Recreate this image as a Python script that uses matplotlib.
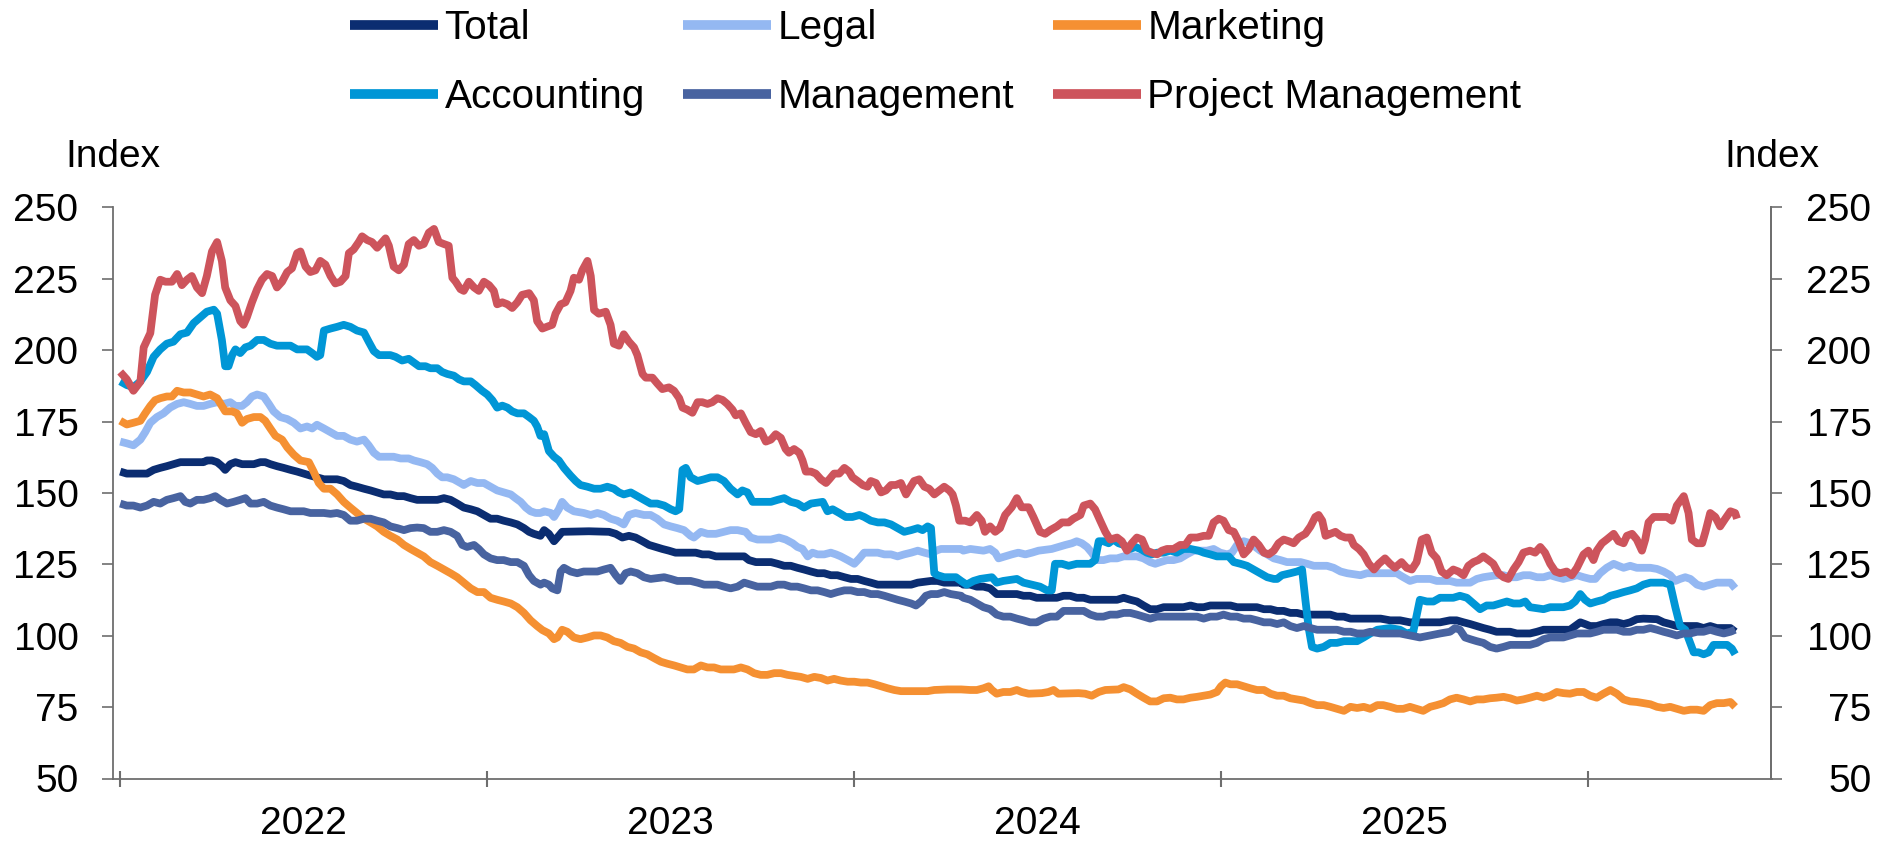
import matplotlib
matplotlib.use("Agg")
import matplotlib.pyplot as plt

plt.rcParams['font.family'] = ['Liberation Sans', 'DejaVu Sans']

# ---------------- data (decimal year, index value) ----------------
series_names = ["Total", "Legal", "Marketing", "Accounting", "Management", "Project Management"]
series_colors = ["#0B2D71", "#94B8F2", "#F59032", "#0096D6", "#4863A0", "#CD545C"]
year_ticks = [2022, 2023, 2024, 2025, 2026]
year_labels = ["2022", "2023", "2024", "2025"]
y_ticks = [50, 75, 100, 125, 150, 175, 200, 225, 250]

total_pts = [
    (2022.000,157.5),(2022.018,156.8),(2022.073,156.8),(2022.091,158.1),(2022.109,158.8),(2022.127,159.4),
    (2022.145,160.1),(2022.164,160.8),(2022.227,160.8),(2022.236,161.4),(2022.250,161.4),(2022.264,160.8),
    (2022.277,159.4),(2022.286,158.1),(2022.300,160.1),(2022.314,160.8),(2022.332,160.1),(2022.364,160.1),
    (2022.382,160.8),(2022.395,160.8),(2022.409,160.1),(2022.427,159.4),(2022.445,158.8),(2022.464,158.1),
    (2022.482,157.5),(2022.500,156.8),(2022.518,156.1),(2022.536,155.5),(2022.555,154.8),(2022.591,154.8),
    (2022.609,154.2),(2022.627,152.8),(2022.645,152.2),(2022.664,151.5),(2022.682,150.9),(2022.700,150.2),
    (2022.718,149.5),(2022.736,149.5),(2022.755,148.9),(2022.773,148.9),(2022.791,148.2),(2022.809,147.6),
    (2022.864,147.6),(2022.882,148.2),(2022.900,147.6),(2022.918,146.3),(2022.936,144.9),(2022.955,144.3),
    (2022.973,143.6),(2022.991,142.3),(2023.009,141.0),(2023.027,141.0),(2023.045,140.3),(2023.064,139.7),
    (2023.082,139.0),(2023.100,137.7),(2023.114,136.4),(2023.127,135.7),(2023.145,135.0),
    (2023.155,137.0),(2023.168,135.7),(2023.182,133.1),(2023.195,135.0),(2023.204,136.4),(2023.277,136.6),
    (2023.332,136.4),(2023.350,135.7),(2023.368,134.4),(2023.386,135.0),(2023.404,134.4),(2023.423,133.1),
    (2023.441,131.8),(2023.459,131.1),(2023.477,130.4),(2023.495,129.8),(2023.513,129.1),(2023.568,129.1),
    (2023.586,128.5),(2023.604,128.5),(2023.623,127.8),(2023.700,127.8),(2023.713,126.5),(2023.732,125.8),
    (2023.773,125.8),(2023.791,125.2),(2023.809,124.5),(2023.827,124.5),(2023.845,123.8),(2023.863,123.2),
    (2023.882,122.5),(2023.900,121.9),(2023.918,121.9),(2023.936,121.2),(2023.954,121.2),(2023.973,120.5),
    (2023.991,119.9),(2024.009,119.9),(2024.027,119.2),(2024.045,118.6),(2024.064,117.9),(2024.155,117.9),
    (2024.173,118.6),(2024.209,119.2),(2024.227,119.2),(2024.245,118.6),(2024.291,118.6),
    (2024.297,117.9),(2024.316,117.9),(2024.334,117.2),(2024.352,117.2),(2024.370,116.6),(2024.388,114.6),
    (2024.443,114.6),(2024.461,114.0),(2024.479,114.0),(2024.497,113.3),(2024.552,113.3),(2024.570,114.0),
    (2024.588,114.0),(2024.606,113.3),(2024.625,113.3),(2024.643,112.6),(2024.716,112.6),(2024.734,113.3),
    (2024.752,112.6),(2024.770,112.0),(2024.788,110.6),(2024.806,109.3),(2024.825,109.3),(2024.843,110.0),
    (2024.897,110.0),(2024.916,110.6),(2024.934,110.0),(2024.952,110.0),(2024.970,110.6),(2025.025,110.6),
    (2025.043,110.0),(2025.097,110.0),(2025.116,109.3),(2025.134,109.3),(2025.152,108.7),(2025.170,108.7),
    (2025.188,108.0),(2025.206,108.0),(2025.225,107.4),(2025.297,107.4),(2025.315,106.7),(2025.334,106.7),
    (2025.352,106.0),(2025.434,106.0),
    (2025.460,105.4),(2025.487,105.4),(2025.514,104.7),(2025.596,104.7),(2025.623,105.4),(2025.641,105.4),
    (2025.660,104.7),(2025.678,104.1),(2025.696,103.4),(2025.714,102.7),(2025.732,102.1),(2025.750,101.4),
    (2025.787,101.4),(2025.805,100.8),(2025.841,100.8),(2025.860,101.4),(2025.878,102.1),(2025.950,102.1),
    (2025.964,103.4),(2025.978,104.7),(2025.991,104.1),(2026.005,103.4),(2026.023,103.4),(2026.041,104.1),
    (2026.060,104.7),(2026.078,104.7),(2026.096,104.1),(2026.114,104.7),(2026.132,105.8),(2026.150,106.0),
    (2026.187,105.8),(2026.205,104.7),(2026.223,104.1),(2026.241,103.4),(2026.296,103.4),(2026.314,102.7),
    (2026.332,103.4),(2026.350,102.7),(2026.387,102.7),(2026.400,101.4),
]

legal_pts = [
    (2022.000,168.0),(2022.018,167.4),(2022.036,166.7),(2022.055,168.7),(2022.068,171.3),(2022.082,174.6),
    (2022.100,176.6),(2022.118,177.9),(2022.136,179.9),(2022.155,181.2),(2022.173,181.8),(2022.191,181.2),
    (2022.209,180.5),(2022.227,180.5),(2022.245,181.2),(2022.264,181.8),(2022.282,181.2),(2022.300,181.8),
    (2022.314,180.5),(2022.332,180.5),(2022.345,181.8),(2022.359,183.8),(2022.373,184.5),(2022.391,183.8),
    (2022.405,181.2),(2022.418,178.6),(2022.436,176.6),(2022.455,175.9),(2022.473,174.6),(2022.491,172.6),
    (2022.509,173.3),(2022.523,172.6),(2022.536,173.9),(2022.555,172.6),(2022.573,171.3),(2022.591,170.0),
    (2022.609,170.0),(2022.627,168.7),(2022.645,168.0),(2022.664,168.7),(2022.677,166.7),(2022.691,164.1),
    (2022.705,162.7),(2022.745,162.7),(2022.764,162.1),(2022.786,162.1),(2022.800,161.4),(2022.818,160.8),
    (2022.836,160.1),(2022.850,158.8),(2022.864,156.8),(2022.877,155.5),(2022.891,155.5),(2022.909,154.8),
    (2022.927,153.5),(2022.936,152.8),(2022.955,154.2),(2022.973,153.5),(2022.991,153.5),(2023.009,152.2),
    (2023.027,150.9),(2023.045,150.2),(2023.064,149.5),(2023.077,148.2),(2023.091,146.9),(2023.105,144.9),
    (2023.118,143.6),(2023.132,143.0),(2023.145,143.0),
    (2023.155,143.6),(2023.173,143.0),(2023.182,141.6),(2023.195,144.3),(2023.204,146.9),(2023.218,144.9),
    (2023.236,143.6),(2023.263,143.0),(2023.282,142.3),(2023.300,143.0),(2023.318,142.3),(2023.336,141.0),
    (2023.354,140.3),(2023.372,139.0),(2023.386,142.3),(2023.404,143.0),(2023.427,142.3),(2023.445,142.3),
    (2023.463,141.0),(2023.482,139.0),(2023.500,138.3),(2023.518,137.7),(2023.536,137.0),(2023.554,135.0),
    (2023.563,134.4),(2023.582,136.4),(2023.600,135.7),(2023.623,135.7),(2023.645,136.4),(2023.663,137.0),
    (2023.682,137.0),(2023.704,136.4),(2023.718,134.4),(2023.736,133.7),(2023.773,133.7),(2023.795,134.4),
    (2023.813,133.7),(2023.832,132.4),(2023.845,131.1),(2023.859,130.4),(2023.873,127.8),(2023.886,129.1),
    (2023.900,128.5),(2023.918,128.5),(2023.936,129.1),(2023.950,128.5),(2023.963,127.8),(2023.982,126.5),
    (2024.000,125.2),(2024.014,127.1),(2024.027,129.1),(2024.064,129.1),(2024.082,128.5),(2024.100,128.5),
    (2024.118,127.8),(2024.136,128.5),(2024.155,129.1),(2024.173,129.8),(2024.191,129.1),(2024.209,128.5),
    (2024.223,129.8),(2024.236,130.4),(2024.291,130.4),
    (2024.297,129.8),(2024.316,130.4),(2024.352,129.8),(2024.370,130.4),(2024.384,129.1),(2024.393,127.1),
    (2024.411,127.8),(2024.429,128.5),(2024.447,129.1),(2024.466,128.5),(2024.484,129.1),(2024.502,129.8),
    (2024.538,130.4),(2024.556,131.1),(2024.575,131.8),(2024.593,132.4),(2024.606,133.1),(2024.620,132.4),
    (2024.634,131.1),(2024.647,129.1),(2024.661,126.5),(2024.679,126.5),(2024.697,127.1),(2024.716,127.1),
    (2024.734,127.8),(2024.770,127.8),(2024.788,127.1),(2024.806,125.8),(2024.820,125.2),(2024.834,125.8),
    (2024.852,126.5),(2024.870,126.5),(2024.888,127.1),(2024.906,128.5),(2024.925,129.8),(2024.961,129.8),
    (2024.979,130.4),(2024.997,129.1),(2025.016,128.5),(2025.029,129.1),(2025.043,131.8),(2025.061,133.1),
    (2025.079,132.4),(2025.093,131.1),(2025.106,129.8),(2025.125,128.5),(2025.143,127.1),(2025.161,126.5),
    (2025.179,125.8),(2025.216,125.8),(2025.234,125.2),(2025.252,124.5),(2025.288,124.5),(2025.306,123.8),
    (2025.325,122.5),(2025.343,121.9),(2025.379,121.2),(2025.397,121.9),(2025.434,121.9),
    (2025.460,121.9),(2025.478,121.9),(2025.496,120.5),(2025.514,119.2),(2025.532,119.9),(2025.569,119.9),
    (2025.587,119.2),(2025.623,119.2),(2025.641,118.6),(2025.678,118.6),(2025.696,119.9),(2025.714,120.5),
    (2025.750,121.2),(2025.769,121.2),(2025.787,120.5),(2025.805,120.5),(2025.823,121.2),(2025.841,121.2),
    (2025.860,120.5),(2025.878,120.5),(2025.896,121.2),(2025.914,120.5),(2025.932,119.9),(2025.950,120.5),
    (2025.969,121.2),(2025.987,120.5),(2026.005,119.9),(2026.019,119.9),(2026.032,121.9),(2026.050,123.8),
    (2026.069,125.2),(2026.082,124.5),(2026.096,123.8),(2026.114,124.5),(2026.132,123.8),(2026.169,123.8),
    (2026.187,123.4),(2026.205,122.5),(2026.223,121.2),(2026.237,119.2),(2026.250,119.9),(2026.264,120.5),
    (2026.278,119.9),(2026.296,117.9),(2026.314,117.2),(2026.332,117.9),(2026.350,118.6),(2026.387,118.6),
    (2026.400,116.6),
]

marketing_pts = [
    (2022.000,175.3),(2022.018,174.0),(2022.036,174.6),(2022.055,175.3),(2022.068,177.9),(2022.082,180.5),
    (2022.095,182.5),(2022.109,183.2),(2022.127,183.8),(2022.141,183.8),(2022.155,185.8),(2022.173,185.2),
    (2022.191,185.2),(2022.209,184.5),(2022.227,183.8),(2022.245,184.5),(2022.264,183.2),(2022.277,180.5),
    (2022.286,178.6),(2022.305,178.6),(2022.318,177.9),(2022.332,174.6),(2022.345,175.9),(2022.364,176.6),
    (2022.382,176.6),(2022.395,175.3),(2022.409,172.6),(2022.423,170.0),(2022.441,168.7),(2022.455,166.0),
    (2022.473,163.4),(2022.491,161.4),(2022.514,160.8),(2022.527,157.5),(2022.541,153.5),(2022.555,151.5),
    (2022.573,151.5),(2022.591,149.5),(2022.609,146.9),(2022.627,144.9),(2022.645,143.0),(2022.664,141.0),
    (2022.682,139.7),(2022.700,138.3),(2022.718,136.4),(2022.736,135.0),(2022.755,133.7),(2022.773,131.8),
    (2022.791,130.4),(2022.809,129.1),(2022.827,127.8),(2022.845,125.8),(2022.864,124.5),(2022.882,123.2),
    (2022.900,121.9),(2022.918,120.5),(2022.936,118.6),(2022.955,116.6),(2022.973,115.3),(2022.991,115.3),
    (2023.009,113.3),(2023.027,112.6),(2023.045,112.0),(2023.064,111.3),(2023.082,110.0),(2023.100,108.0),
    (2023.118,105.4),(2023.136,103.4),(2023.150,102.0),
    (2023.168,100.8),(2023.182,98.8),(2023.191,99.4),(2023.204,102.1),(2023.218,101.4),(2023.236,99.4),
    (2023.254,98.8),(2023.273,99.4),(2023.291,100.1),(2023.309,100.1),(2023.327,99.4),(2023.345,98.1),
    (2023.363,97.5),(2023.382,96.1),(2023.400,95.5),(2023.418,94.2),(2023.436,93.5),(2023.454,92.2),
    (2023.473,90.9),(2023.491,90.2),(2023.509,89.6),(2023.527,88.9),(2023.545,88.2),(2023.563,88.2),
    (2023.582,89.6),(2023.600,88.9),(2023.618,88.9),(2023.636,88.2),(2023.672,88.2),(2023.691,88.9),
    (2023.709,88.2),(2023.727,86.9),(2023.745,86.3),(2023.763,86.3),(2023.782,86.9),(2023.800,86.9),
    (2023.818,86.3),(2023.854,85.6),(2023.873,84.9),(2023.891,85.6),(2023.909,85.2),(2023.927,84.3),
    (2023.945,84.9),(2023.963,84.3),(2023.982,83.9),(2024.000,83.9),(2024.018,83.6),(2024.036,83.6),
    (2024.055,83.0),(2024.073,82.3),(2024.091,81.6),(2024.109,81.0),(2024.127,80.6),(2024.200,80.6),
    (2024.218,81.0),(2024.254,81.2),(2024.291,81.2),
    (2024.316,81.0),(2024.334,81.0),(2024.352,81.6),(2024.366,82.3),(2024.375,81.0),(2024.388,79.7),
    (2024.406,80.3),(2024.425,80.3),(2024.443,81.0),(2024.456,80.3),(2024.475,79.7),(2024.511,79.9),
    (2024.529,80.3),(2024.543,81.0),(2024.556,79.7),(2024.611,79.9),(2024.629,79.7),(2024.647,79.0),
    (2024.666,80.3),(2024.684,81.0),(2024.720,81.2),(2024.734,82.0),(2024.752,81.2),(2024.770,79.7),
    (2024.788,78.3),(2024.806,77.0),(2024.825,77.0),(2024.843,78.1),(2024.861,78.3),(2024.879,77.7),
    (2024.897,77.7),(2024.916,78.3),(2024.934,78.6),(2024.952,79.0),(2024.970,79.4),(2024.988,80.3),
    (2024.999,82.3),(2025.011,83.6),(2025.025,83.0),(2025.043,83.0),(2025.061,82.3),(2025.079,81.6),
    (2025.097,81.0),(2025.116,81.0),(2025.134,79.7),(2025.152,79.0),(2025.170,79.0),(2025.188,78.1),
    (2025.206,77.7),(2025.225,77.3),(2025.243,76.4),(2025.261,75.7),(2025.279,75.7),(2025.297,75.1),
    (2025.315,74.4),(2025.334,73.7),(2025.352,75.1),(2025.370,74.7),(2025.388,75.1),(2025.406,74.4),
    (2025.425,75.7),
    (2025.441,75.7),(2025.460,75.1),(2025.478,74.4),(2025.496,74.4),(2025.514,75.1),(2025.532,74.4),
    (2025.550,73.7),(2025.569,75.1),(2025.587,75.7),(2025.605,76.4),(2025.623,77.7),(2025.641,78.3),
    (2025.660,77.7),(2025.678,77.0),(2025.696,77.7),(2025.714,77.7),(2025.732,78.1),(2025.750,78.3),
    (2025.769,78.6),(2025.787,78.1),(2025.805,77.3),(2025.823,77.7),(2025.841,78.3),(2025.860,79.0),
    (2025.878,78.3),(2025.896,79.0),(2025.914,80.3),(2025.932,79.9),(2025.950,79.7),(2025.969,80.3),
    (2025.987,80.3),(2026.005,79.0),(2026.023,78.3),(2026.041,79.7),(2026.060,81.0),(2026.078,79.7),
    (2026.096,77.7),(2026.114,77.0),(2026.132,76.8),(2026.150,76.4),(2026.169,76.0),(2026.187,75.1),
    (2026.205,74.7),(2026.223,75.1),(2026.241,74.4),(2026.260,73.7),(2026.278,74.1),(2026.296,74.1),
    (2026.314,73.7),(2026.332,75.7),(2026.350,76.4),(2026.369,76.4),(2026.387,76.8),(2026.400,75.1),
]

accounting_pts = [
    (2022.000,189.1),(2022.018,187.8),(2022.036,187.1),(2022.055,189.1),(2022.073,192.4),(2022.091,197.7),
    (2022.109,200.3),(2022.127,202.3),(2022.145,203.0),(2022.164,205.6),(2022.182,206.2),(2022.200,209.5),
    (2022.218,211.5),(2022.236,213.5),(2022.255,214.2),(2022.264,212.8),(2022.277,203.6),(2022.286,194.4),
    (2022.295,194.4),(2022.305,198.3),(2022.314,200.3),(2022.327,199.0),(2022.341,201.0),(2022.355,201.6),
    (2022.373,203.6),(2022.391,203.6),(2022.409,202.3),(2022.427,201.6),(2022.464,201.6),(2022.482,200.3),
    (2022.509,200.3),(2022.523,199.0),(2022.536,197.7),(2022.545,198.3),(2022.555,206.9),(2022.573,207.6),
    (2022.591,208.2),(2022.609,208.9),(2022.627,208.2),(2022.645,206.9),(2022.664,206.2),(2022.677,203.0),
    (2022.691,199.7),(2022.705,198.3),(2022.736,198.3),(2022.750,197.7),(2022.768,196.4),(2022.786,197.0),
    (2022.800,195.7),(2022.814,194.4),(2022.832,194.4),(2022.845,193.7),(2022.864,193.7),(2022.877,192.4),
    (2022.891,191.7),(2022.909,191.1),(2022.923,189.8),(2022.936,189.1),(2022.955,189.1),(2022.968,187.8),
    (2022.986,185.8),(2023.000,184.5),(2023.014,182.5),(2023.027,179.9),(2023.041,180.6),(2023.055,179.9),
    (2023.068,178.6),(2023.082,177.9),(2023.100,177.9),(2023.114,176.6),(2023.127,175.3),(2023.136,173.3),
    (2023.145,170.0),
    (2023.155,170.6),(2023.168,164.7),(2023.182,162.7),(2023.195,161.4),(2023.209,158.8),(2023.227,156.1),
    (2023.241,154.2),(2023.254,152.8),(2023.273,152.2),(2023.291,151.5),(2023.309,151.5),(2023.327,152.2),
    (2023.345,151.5),(2023.359,150.2),(2023.372,149.5),(2023.391,150.2),(2023.409,148.9),(2023.427,147.6),
    (2023.445,146.3),(2023.463,146.3),(2023.482,145.6),(2023.500,144.3),(2023.513,143.6),(2023.523,144.3),
    (2023.532,158.1),(2023.541,158.8),(2023.554,155.5),(2023.573,154.2),(2023.591,154.8),(2023.609,155.5),
    (2023.627,155.5),(2023.645,154.2),(2023.663,151.5),(2023.682,149.5),(2023.695,150.9),(2023.709,150.2),
    (2023.723,146.9),(2023.773,146.9),(2023.791,147.6),(2023.809,148.2),(2023.827,146.9),(2023.845,146.3),
    (2023.863,144.9),(2023.882,146.3),(2023.914,146.9),(2023.927,143.6),(2023.941,144.3),(2023.959,143.0),
    (2023.977,141.6),(2023.995,141.6),(2024.014,142.3),(2024.027,141.6),(2024.045,140.3),(2024.064,139.7),
    (2024.082,139.7),(2024.100,139.0),(2024.118,137.7),(2024.136,136.4),(2024.155,137.0),(2024.173,137.7),
    (2024.186,137.0),(2024.200,138.3),(2024.209,137.7),(2024.218,121.9),(2024.227,121.2),(2024.245,120.5),
    (2024.277,120.5),(2024.291,119.2),
    (2024.306,117.9),(2024.325,119.2),(2024.343,119.9),(2024.375,120.5),(2024.388,118.6),(2024.406,119.2),
    (2024.443,119.9),(2024.461,118.6),(2024.484,117.9),(2024.506,117.2),(2024.525,115.9),(2024.538,115.9),
    (2024.547,125.2),(2024.566,125.2),(2024.584,124.5),(2024.606,125.2),(2024.643,125.2),(2024.656,126.5),
    (2024.666,133.1),(2024.679,133.1),(2024.693,132.4),(2024.706,133.7),(2024.720,132.4),(2024.734,131.8),
    (2024.752,130.4),(2024.766,131.1),(2024.779,130.4),(2024.797,129.1),(2024.811,128.5),(2024.825,129.1),
    (2024.843,129.1),(2024.861,129.8),(2024.879,129.1),(2024.897,130.4),(2024.916,130.4),(2024.938,129.8),
    (2024.952,129.1),(2024.970,128.5),(2024.988,127.8),(2025.020,127.8),(2025.034,125.8),(2025.052,125.2),
    (2025.070,124.5),(2025.088,123.2),(2025.106,121.9),(2025.125,120.5),(2025.143,119.9),(2025.152,119.9),
    (2025.165,121.2),(2025.188,121.9),(2025.206,122.5),(2025.220,123.2),(2025.229,112.6),(2025.238,102.7),
    (2025.247,96.1),(2025.261,95.5),(2025.279,96.1),(2025.297,97.5),(2025.315,97.5),(2025.334,98.1),
    (2025.370,98.1),(2025.388,99.4),(2025.406,100.8),(2025.425,102.1),
    (2025.460,102.7),(2025.487,102.1),(2025.505,100.8),(2025.523,101.4),(2025.541,112.6),(2025.560,112.0),
    (2025.578,112.0),(2025.596,113.3),(2025.632,113.3),(2025.650,114.0),(2025.669,113.3),(2025.687,111.3),
    (2025.705,109.3),(2025.723,110.6),(2025.741,110.6),(2025.760,111.3),(2025.778,112.0),(2025.796,111.3),
    (2025.814,111.3),(2025.828,112.0),(2025.841,110.0),(2025.878,109.3),(2025.896,110.0),(2025.932,110.0),
    (2025.950,110.6),(2025.964,112.0),(2025.978,114.6),(2025.991,112.6),(2026.005,111.3),(2026.023,112.0),
    (2026.041,112.6),(2026.060,114.0),(2026.078,114.6),(2026.096,115.3),(2026.114,115.9),(2026.132,116.6),
    (2026.150,117.9),(2026.169,118.6),(2026.205,118.6),(2026.223,117.9),(2026.237,110.0),(2026.250,103.4),
    (2026.264,102.1),(2026.287,94.2),(2026.300,94.2),(2026.314,93.5),(2026.328,94.2),(2026.341,96.8),
    (2026.378,96.8),(2026.391,95.5),(2026.400,93.5),
]

management_pts = [
    (2022.000,146.3),(2022.018,145.6),(2022.036,145.6),(2022.055,144.9),(2022.073,145.6),(2022.091,146.9),
    (2022.109,146.3),(2022.127,147.6),(2022.145,148.2),(2022.164,148.9),(2022.177,146.9),(2022.191,146.3),
    (2022.209,147.6),(2022.227,147.6),(2022.245,148.2),(2022.259,148.9),(2022.273,147.6),(2022.291,146.3),
    (2022.309,146.9),(2022.327,147.6),(2022.341,148.2),(2022.355,146.3),(2022.373,146.3),(2022.391,146.9),
    (2022.409,145.6),(2022.427,144.9),(2022.445,144.3),(2022.464,143.6),(2022.500,143.6),(2022.518,143.0),
    (2022.555,143.0),(2022.573,142.7),(2022.591,143.0),(2022.609,142.3),(2022.627,140.3),(2022.645,140.3),
    (2022.664,141.0),(2022.682,141.0),(2022.700,140.3),(2022.718,139.7),(2022.736,138.3),(2022.755,137.7),
    (2022.773,137.0),(2022.791,137.7),(2022.809,137.9),(2022.827,137.7),(2022.845,136.4),(2022.864,136.4),
    (2022.882,137.0),(2022.900,136.4),(2022.918,135.0),(2022.932,131.8),(2022.945,131.1),(2022.964,131.8),
    (2022.977,130.4),(2022.991,128.5),(2023.009,127.1),(2023.027,126.5),(2023.045,126.5),(2023.064,125.8),
    (2023.082,125.8),(2023.100,124.5),(2023.114,121.2),(2023.127,119.2),(2023.145,117.9),
    (2023.155,118.6),(2023.168,117.9),(2023.177,116.6),(2023.191,115.9),(2023.200,122.5),(2023.209,123.8),
    (2023.227,122.5),(2023.245,121.9),(2023.263,122.5),(2023.300,122.5),(2023.318,123.2),(2023.336,123.8),
    (2023.350,121.2),(2023.363,119.2),(2023.377,121.9),(2023.391,122.5),(2023.409,121.9),(2023.427,120.5),
    (2023.445,119.9),(2023.482,120.5),(2023.500,119.9),(2023.518,119.2),(2023.554,119.2),(2023.573,118.6),
    (2023.591,117.9),(2023.627,117.9),(2023.645,117.2),(2023.663,116.6),(2023.682,117.2),(2023.700,118.6),
    (2023.718,117.9),(2023.736,117.2),(2023.773,117.2),(2023.791,117.9),(2023.809,117.9),(2023.827,117.2),
    (2023.845,117.2),(2023.863,116.6),(2023.882,115.9),(2023.900,115.9),(2023.918,115.3),(2023.936,114.6),
    (2023.954,115.3),(2023.973,115.9),(2023.991,115.9),(2024.009,115.3),(2024.027,115.3),(2024.045,114.6),
    (2024.064,114.6),(2024.082,114.0),(2024.100,113.3),(2024.118,112.6),(2024.136,112.0),(2024.155,111.3),
    (2024.168,110.6),(2024.182,112.0),(2024.195,114.0),(2024.209,114.6),(2024.227,114.6),(2024.245,115.3),
    (2024.263,114.6),(2024.291,114.0),
    (2024.297,113.3),(2024.316,112.6),(2024.334,111.3),(2024.352,110.0),(2024.370,109.3),(2024.388,107.4),
    (2024.406,106.7),(2024.425,106.7),(2024.443,106.0),(2024.461,105.4),(2024.479,104.7),(2024.497,104.7),
    (2024.516,106.0),(2024.534,106.7),(2024.552,106.7),(2024.570,108.7),(2024.625,108.7),(2024.643,107.4),
    (2024.661,106.7),(2024.679,106.7),(2024.697,107.4),(2024.716,107.4),(2024.734,108.0),(2024.752,108.0),
    (2024.770,107.4),(2024.788,106.7),(2024.806,106.0),(2024.825,106.7),(2024.934,106.7),(2024.952,106.0),
    (2024.970,106.7),(2024.988,106.7),(2025.006,107.4),(2025.025,106.7),(2025.043,106.7),(2025.061,106.0),
    (2025.079,106.0),(2025.097,105.4),(2025.116,104.7),(2025.134,104.7),(2025.152,104.1),(2025.170,104.7),
    (2025.188,103.4),(2025.206,102.7),(2025.225,103.4),(2025.243,102.7),(2025.261,102.1),(2025.315,102.1),
    (2025.334,101.4),(2025.352,101.4),(2025.370,100.8),(2025.388,100.8),(2025.406,101.4),(2025.434,100.8),
    (2025.460,100.8),(2025.487,100.8),(2025.514,100.1),(2025.541,99.4),(2025.569,100.1),(2025.596,100.8),
    (2025.623,101.4),(2025.637,102.7),(2025.650,102.1),(2025.664,99.4),(2025.678,98.8),(2025.696,98.1),
    (2025.714,97.5),(2025.732,96.1),(2025.750,95.5),(2025.769,96.1),(2025.787,96.8),(2025.841,96.8),
    (2025.860,97.5),(2025.878,98.8),(2025.896,99.4),(2025.932,99.4),(2025.950,100.1),(2025.969,100.8),
    (2026.005,100.8),(2026.023,101.4),(2026.041,102.1),(2026.078,102.1),(2026.096,101.4),(2026.114,101.4),
    (2026.132,102.1),(2026.150,102.1),(2026.169,102.7),(2026.187,102.1),(2026.205,101.4),(2026.223,100.8),
    (2026.241,100.1),(2026.260,100.8),(2026.278,100.8),(2026.296,101.4),(2026.314,101.4),(2026.332,102.1),
    (2026.350,101.4),(2026.369,100.8),(2026.387,101.4),(2026.400,102.1),
]

project_mgmt_pts = [
    (2022.000,192.4),(2022.018,189.8),(2022.036,185.8),(2022.055,189.0),(2022.064,201.0),(2022.082,206.0),
    (2022.095,219.4),(2022.109,224.7),(2022.123,224.0),(2022.141,224.0),(2022.155,226.7),(2022.168,222.8),
    (2022.182,224.7),(2022.195,226.0),(2022.209,222.0),(2022.223,220.0),(2022.236,226.0),(2022.250,234.6),
    (2022.264,237.9),(2022.277,231.3),(2022.286,222.0),(2022.300,217.5),(2022.314,215.5),(2022.327,210.2),
    (2022.336,208.9),(2022.345,211.5),(2022.359,216.8),(2022.373,221.4),(2022.386,224.7),(2022.400,226.7),
    (2022.414,226.0),(2022.427,222.0),(2022.441,224.0),(2022.455,227.4),(2022.468,228.7),(2022.482,234.0),
    (2022.491,234.6),(2022.505,229.3),(2022.518,227.4),(2022.532,228.0),(2022.545,231.3),(2022.559,230.0),
    (2022.573,226.0),(2022.586,223.4),(2022.600,224.0),(2022.614,226.0),(2022.623,234.0),(2022.636,235.3),
    (2022.650,237.9),(2022.659,239.9),(2022.673,238.6),(2022.686,237.9),(2022.700,235.9),(2022.714,237.9),
    (2022.723,239.2),(2022.732,236.6),(2022.745,229.3),(2022.759,228.0),(2022.773,230.0),(2022.786,237.2),
    (2022.800,238.6),(2022.814,236.6),(2022.827,237.2),(2022.841,241.2),(2022.855,242.5),(2022.868,237.9),
    (2022.882,237.2),(2022.895,236.6),(2022.905,225.4),(2022.914,224.0),(2022.927,221.4),(2022.936,220.8),
    (2022.950,224.0),(2022.964,222.0),(2022.977,220.8),(2022.991,224.0),(2023.005,222.8),(2023.018,220.8),
    (2023.027,216.1),(2023.041,216.8),(2023.055,216.1),(2023.068,214.8),(2023.082,216.8),(2023.095,219.4),
    (2023.114,220.0),(2023.127,217.5),(2023.136,210.2),(2023.150,207.6),
    (2023.164,208.3),(2023.177,208.9),(2023.186,212.8),(2023.200,216.1),(2023.213,216.8),(2023.227,220.8),
    (2023.236,225.4),(2023.250,224.7),(2023.259,228.0),(2023.273,231.3),(2023.282,226.0),(2023.291,214.1),
    (2023.304,212.8),(2023.323,213.5),(2023.336,208.9),(2023.345,202.3),(2023.359,201.6),(2023.372,205.6),
    (2023.386,203.0),(2023.400,201.0),(2023.409,198.3),(2023.423,191.7),(2023.432,190.4),(2023.450,190.4),
    (2023.463,188.4),(2023.477,186.4),(2023.495,187.0),(2023.509,185.8),(2023.523,183.2),(2023.532,179.9),
    (2023.545,179.2),(2023.559,178.1),(2023.573,181.8),(2023.586,181.8),(2023.600,181.2),(2023.613,181.8),
    (2023.627,183.2),(2023.641,182.6),(2023.654,181.2),(2023.668,179.2),(2023.677,177.2),(2023.691,177.9),
    (2023.704,174.6),(2023.718,171.3),(2023.732,170.6),(2023.745,171.7),(2023.759,168.0),(2023.773,168.7),
    (2023.786,170.6),(2023.800,169.3),(2023.813,165.4),(2023.822,164.1),(2023.836,165.4),(2023.850,164.1),
    (2023.859,161.4),(2023.868,157.5),(2023.882,157.5),(2023.895,156.8),(2023.909,154.8),(2023.923,153.5),
    (2023.932,154.8),(2023.945,156.8),(2023.959,156.8),(2023.973,158.8),(2023.986,157.5),(2023.995,155.5),
    (2024.009,154.2),(2024.023,152.8),(2024.036,152.2),(2024.045,154.2),(2024.059,153.5),(2024.073,150.2),
    (2024.086,150.9),(2024.100,152.8),(2024.113,152.8),(2024.127,153.5),(2024.141,149.5),(2024.150,151.5),
    (2024.163,154.2),(2024.177,154.8),(2024.191,152.2),(2024.204,151.5),(2024.218,149.5),(2024.232,150.9),
    (2024.245,152.2),(2024.259,150.9),(2024.268,149.5),(2024.277,145.6),(2024.286,140.3),
    (2024.302,140.3),(2024.316,139.7),(2024.334,142.3),(2024.347,140.3),(2024.356,136.4),(2024.370,138.3),
    (2024.384,136.4),(2024.397,137.7),(2024.411,142.3),(2024.429,145.0),(2024.443,148.2),(2024.456,145.0),
    (2024.475,145.0),(2024.488,141.6),(2024.506,136.4),(2024.520,135.7),(2024.534,137.0),(2024.552,138.3),
    (2024.566,139.7),(2024.584,139.7),(2024.597,141.0),(2024.616,142.3),(2024.625,145.6),(2024.643,146.3),
    (2024.656,144.3),(2024.670,140.3),(2024.684,136.4),(2024.697,133.7),(2024.716,134.4),(2024.729,133.1),
    (2024.743,129.8),(2024.756,132.4),(2024.770,134.4),(2024.784,133.7),(2024.797,129.8),(2024.811,129.1),
    (2024.825,128.5),(2024.838,129.8),(2024.852,130.4),(2024.870,130.4),(2024.888,131.8),(2024.902,131.8),
    (2024.916,134.4),(2024.934,134.4),(2024.952,135.0),(2024.966,135.0),(2024.979,139.7),(2024.993,141.0),
    (2025.006,140.3),(2025.020,137.0),(2025.034,136.4),(2025.047,133.1),(2025.061,128.5),(2025.075,130.4),
    (2025.088,133.7),(2025.102,131.8),(2025.116,129.1),(2025.129,128.5),(2025.143,129.8),(2025.156,132.4),
    (2025.170,133.7),(2025.184,133.1),(2025.197,132.4),(2025.211,134.4),(2025.229,135.7),(2025.243,138.3),
    (2025.256,141.6),(2025.265,142.3),(2025.275,140.3),(2025.284,135.0),(2025.297,135.7),(2025.311,136.4),
    (2025.325,135.0),(2025.338,134.4),(2025.352,134.4),(2025.361,131.8),(2025.375,130.4),(2025.388,128.5),
    (2025.402,125.2),(2025.416,123.2),(2025.429,125.2),
    (2025.446,127.1),(2025.460,125.2),(2025.473,123.8),(2025.491,125.8),(2025.505,123.8),(2025.519,123.2),
    (2025.532,125.8),(2025.546,133.7),(2025.560,134.4),(2025.573,129.1),(2025.587,127.1),(2025.600,122.5),
    (2025.614,121.2),(2025.632,123.2),(2025.646,122.5),(2025.660,121.2),(2025.673,124.5),(2025.687,125.8),
    (2025.700,126.5),(2025.714,127.8),(2025.728,126.5),(2025.741,125.2),(2025.755,121.9),(2025.769,120.5),
    (2025.782,119.9),(2025.796,123.2),(2025.810,125.8),(2025.823,129.1),(2025.841,129.8),(2025.855,129.1),
    (2025.869,131.1),(2025.882,129.1),(2025.896,125.2),(2025.910,122.5),(2025.923,121.9),(2025.941,122.5),
    (2025.955,121.2),(2025.969,123.8),(2025.987,128.5),(2026.000,129.8),(2026.014,126.5),(2026.023,129.8),
    (2026.037,132.4),(2026.050,133.7),(2026.069,135.7),(2026.082,133.1),(2026.096,132.4),(2026.105,135.0),
    (2026.119,135.7),(2026.132,133.7),(2026.146,129.8),(2026.155,133.7),(2026.164,139.7),(2026.178,141.6),
    (2026.196,141.6),(2026.214,141.6),(2026.228,140.3),(2026.241,145.6),(2026.260,148.9),(2026.273,143.0),
    (2026.282,133.7),(2026.296,132.4),(2026.310,132.4),(2026.319,136.4),(2026.332,143.0),(2026.346,141.6),
    (2026.359,138.3),(2026.373,141.0),(2026.387,143.6),(2026.400,143.0),(2026.405,141.0),
]

all_series = [total_pts, legal_pts, marketing_pts, accounting_pts, management_pts, project_mgmt_pts]

# ---------------- figure ----------------
W, H = 1893, 843
fig = plt.figure(figsize=(W / 100, H / 100), dpi=100)
ax_l, ax_r, ax_b, ax_t = 112.5, 1771.5, 778.5, 207.5
ax = fig.add_axes([ax_l / W, 1 - ax_b / H, (ax_r - ax_l) / W, (ax_b - ax_t) / H])

handles = []
for name, color, pts in zip(series_names, series_colors, all_series):
    xs = [p[0] for p in pts]
    ys = [p[1] for p in pts]
    ln, = ax.plot(xs, ys, color=color, lw=5.6, solid_joinstyle='round',
                  solid_capstyle='butt', label=name)
    handles.append(ln)

ax.set_xlim(2021.979, 2026.499)
ax.set_ylim(50, 250)

spine_col = '#6E6E6E'
ax.spines['top'].set_visible(False)
for s in ['left', 'bottom', 'right']:
    ax.spines[s].set_color(spine_col)
    ax.spines[s].set_linewidth(1.3)

ax.set_yticks(y_ticks)
ax.tick_params(axis='y', direction='out', length=8, width=1.2, color=spine_col,
               pad=16.5, labelsize=28, left=True, right=False)

ax2 = ax.twinx()
ax2.set_ylim(50, 250)
ax2.set_yticks(y_ticks)
for s in ['top', 'left', 'bottom']:
    ax2.spines[s].set_visible(False)
ax2.spines['right'].set_color(spine_col)
ax2.spines['right'].set_linewidth(1.3)
ax2.tick_params(axis='y', direction='out', length=8, width=1.2, color=spine_col,
                pad=64, labelsize=28)
for lbl in ax2.get_yticklabels():
    lbl.set_horizontalalignment('right')

ax.set_xticks(year_ticks)
ax.set_xticklabels([])
ax.tick_params(axis='x', which='major', direction='inout', length=11, width=1.5,
               color=spine_col)
ax.set_xticks([y + 0.5 for y in year_ticks[:-1]], minor=True)
ax.set_xticklabels(year_labels, minor=True)
ax.tick_params(axis='x', which='minor', length=0, pad=20, labelsize=28)

# axis titles
fig.text(ax_l / W, 1 - 167 / H, 'Index', ha='center', va='baseline', fontsize=28)
fig.text(ax_r / W, 1 - 167 / H, 'Index', ha='center', va='baseline', fontsize=28)

# legend (column-major fill: Total/Accounting, Legal/Management, Marketing/PM)
order = [0, 3, 1, 4, 2, 5]
leg = fig.legend([handles[i] for i in order], [series_names[i] for i in order],
                 ncol=3, loc='upper left', bbox_to_anchor=(350 / W, 1 - 9 / H),
                 frameon=False, borderpad=0, borderaxespad=0, handlelength=2.17,
                 handletextpad=0.16, columnspacing=0.945, labelspacing=0.76,
                 fontsize=29.2)
for l in leg.get_lines():
    l.set_linewidth(7)

fig.savefig('out.png', dpi=100)
